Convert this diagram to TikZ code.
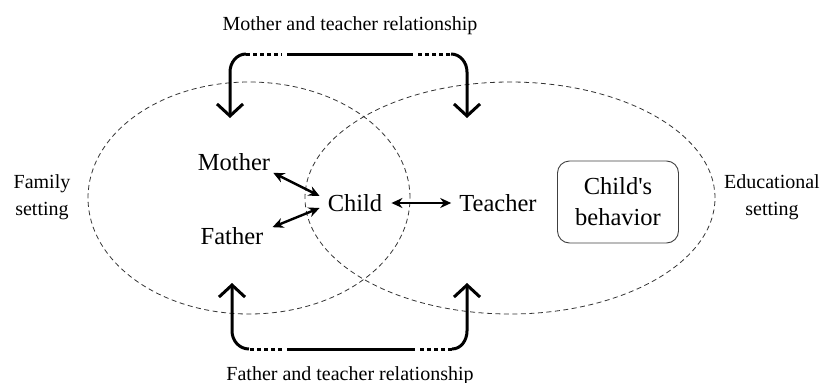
\documentclass[tikz,border=0pt]{standalone}
\usepackage{fontspec}
\setmainfont{Liberation Serif}
\usetikzlibrary{arrows.meta}

\tikzset{
  setting/.style={dash pattern=on 5pt off 3.5pt, line width=0.8pt, black!80},
  person/.style={font=\fontsize{24.5}{28}\selectfont, inner sep=2pt},
  settext/.style={font=\fontsize{20}{27}\selectfont, align=center, inner sep=1pt},
  box/.style={draw=black!75, line width=0.9pt, rounded corners=12pt, minimum width=121pt,
    minimum height=82pt, align=center, font=\fontsize{24.5}{31}\selectfont},
  link/.style={line width=2.4pt, {Stealth[length=11pt,width=10pt]}-{Stealth[length=11pt,width=10pt]}},
  rel/.style={line width=3pt},
  reldot/.style={line width=3pt, dash pattern=on 4pt off 3pt},
  relhead/.style={-{Straight Barb[length=12pt,width=26pt]}}
}

\begin{document}
\begin{tikzpicture}[x=1pt,y=-1pt]
\useasboundingbox (0,0) rectangle (823,383);
%.............................
\draw[setting] (249,198) ellipse [x radius=161pt, y radius=116pt];
\draw[setting] (510,198) ellipse [x radius=205pt, y radius=116pt];
\node[settext] (family) at (42,197) {Family\\setting};
\node[settext] (school) at (772,197) {Educational\\setting};
%.............................
\node[person] (mother) at (234,162) {Mother};
\node[person] (father) at (232,236) {Father};
\node[person] (child) at (355,203) {Child};
\node[person] (teacher) at (498,203) {Teacher};
\node[box] (behavior) at (618,202) {Child\textquotesingle s\\behavior};
\draw[link] ([xshift=1pt]mother.south east) -- ([xshift=-6pt,yshift=7pt]child.west);
\draw[link] ([xshift=7pt,yshift=-2pt]father.north east) -- ([xshift=-6pt,yshift=-5pt]child.west);
\draw[link, shorten <=7pt, shorten >=6pt] (child.east) -- (teacher.west);
%.............................
\node[settext, anchor=base] (mtrel) at (350,30) {Mother and teacher relationship};
\coordinate (mtl) at (230,118);
\coordinate (mtr) at (467,118);
\draw[rel,relhead] (246,54) to[out=180,in=90] (230,72) -- (mtl);
\draw[reldot] (246,54) -- (282,54);
\draw[rel] (287,54) -- (413,54);
\draw[reldot] (418,54) -- (451,54);
\draw[rel,relhead] (451,54) to[out=0,in=90] (467,72) -- (mtr);
%.............................
\node[settext, anchor=base] (ftrel) at (350,380) {Father and teacher relationship};
\coordinate (ftl) at (232,283);
\coordinate (ftr) at (467,283);
\draw[rel,relhead] (249,349) to[out=180,in=-90] (232,331) -- (ftl);
\draw[reldot] (250,349) -- (282,349);
\draw[rel] (287,349) -- (415,349);
\draw[reldot] (420,349) -- (452,349);
\draw[rel,relhead] (452,349) to[out=0,in=-90] (467,331) -- (ftr);
\end{tikzpicture}
\end{document}
